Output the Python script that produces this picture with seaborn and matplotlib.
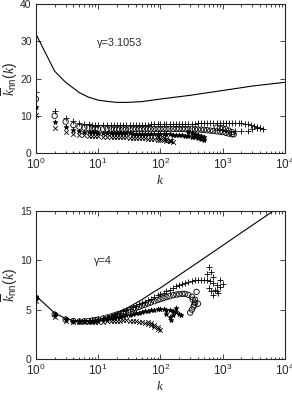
import matplotlib
matplotlib.use("Agg")
import matplotlib.pyplot as plt
import seaborn as sns
import pandas as pd

# ---- top panel, gamma = 3.1053 ----
K_TOP = [1, 2, 3, 4, 5, 6, 7, 8, 9, 10, 12, 14, 16, 18, 20, 22, 25, 28, 32, 36, 40, 45, 50,
         56, 63, 70, 80, 90, 100, 112, 125, 140, 160, 180, 200, 225, 250, 280, 320, 360, 400,
         450, 500, 560, 630, 700, 800, 900, 1000, 1120, 1250, 1400, 1600, 1800, 2000, 2250,
         2500, 2800, 3200, 3600, 4000, 4500]

TOP_LINE_K = [1, 2, 3, 5, 7, 10, 15, 20, 30, 50, 100, 300, 1000, 3000, 10000]
TOP_LINE_V = [32.0, 22.0, 19.0, 16.2, 15.0, 14.2, 13.8, 13.6, 13.6, 13.8, 14.5, 15.5, 16.8, 18.0, 19.0]

TOP_X = [10.3, 6.8, 5.7, 5.1, 4.8, 4.7, 4.6, 4.55, 4.5, 4.45, 4.4, 4.35, 4.3, 4.3, 4.25, 4.2,
         4.2, 4.15, 4.1, 4.05, 4.0, 4.0, 3.95, 3.9, 3.85, 3.8, 3.7, 3.6, 3.5, 3.4, 3.3, 3.1, 2.9]
TOP_X_TAIL_K = [90, 100, 112, 125, 140, 150]
TOP_X_TAIL_V = [4.2, 4.1, 4.0, 3.8, 3.5, 3.2]

TOP_STAR = [12.4, 8.4, 7.0, 6.2, 5.9, 5.7, 5.6, 5.5, 5.5, 5.45, 5.4, 5.4, 5.35, 5.35, 5.3, 5.3,
            5.3, 5.25, 5.25, 5.2, 5.2, 5.2, 5.15, 5.15, 5.1, 5.1, 5.1, 5.05, 5.0, 5.0, 5.0,
            4.95, 4.9, 4.85, 4.8, 4.7, 4.6, 4.5, 4.35, 4.2, 4.0, 3.8, 3.6]
TOP_STAR_TAIL_K = [280, 320, 360, 400, 450, 500]
TOP_STAR_TAIL_V = [5.6, 5.4, 5.2, 4.9, 4.6, 4.2]

TOP_O = [14.5, 10.0, 8.4, 7.5, 7.0, 6.8, 6.65, 6.55, 6.5, 6.45, 6.4, 6.4, 6.35, 6.35, 6.35,
         6.35, 6.35, 6.35, 6.35, 6.4, 6.4, 6.4, 6.4, 6.4, 6.4, 6.4, 6.45, 6.45, 6.45, 6.45,
         6.45, 6.45, 6.45, 6.45, 6.45, 6.45, 6.4, 6.4, 6.4, 6.35, 6.3, 6.25, 6.2, 6.1, 6.0,
         5.9, 5.8, 5.7, 5.6, 5.4, 5.2, 5.0]
TOP_O_TAIL_K = [800, 900, 1000, 1120, 1250, 1400, 1500]
TOP_O_TAIL_V = [6.8, 6.7, 6.6, 6.4, 6.0, 5.6, 5.0]

TOP_PLUS = [16.5, 11.4, 9.5, 8.6, 8.1, 7.8, 7.65, 7.55, 7.5, 7.45, 7.4, 7.4, 7.4, 7.4, 7.4,
            7.45, 7.45, 7.5, 7.5, 7.5, 7.55, 7.55, 7.6, 7.6, 7.6, 7.65, 7.65, 7.7, 7.7, 7.7,
            7.75, 7.75, 7.8, 7.8, 7.8, 7.85, 7.85, 7.9, 7.9, 7.9, 7.95, 7.95, 8.0, 8.0, 8.0,
            8.05, 8.05, 8.1, 8.1, 8.1, 8.15, 8.15, 8.15, 8.1, 8.0, 7.9, 7.7, 7.5, 7.2, 7.0,
            6.8, 6.5]
TOP_PLUS_TAIL_K = [1600, 2000, 2500, 3000, 3500, 4000]
TOP_PLUS_TAIL_V = [6.0, 5.8, 6.0, 6.3, 6.6, 6.8]

# ---- bottom panel, gamma = 4 ----
K_BOT = [1, 2, 3, 4, 5, 6, 7, 8, 9, 10, 12, 14, 16, 18, 20, 22, 25, 28, 32, 36, 40, 45, 50,
         56, 63, 70, 80, 90, 100, 112, 125, 140, 160, 180, 200, 225, 250, 280, 320, 360, 400,
         450, 500, 560, 630, 700, 800, 900, 1000]

BOT_LINE_K = [1, 2, 3, 4, 5, 7, 10, 15, 20, 30, 50, 70, 100, 200, 500, 1000, 2000, 5000, 10000]
BOT_LINE_V = [6.4, 4.65, 4.1, 3.9, 3.85, 3.85, 4.0, 4.3, 4.65, 5.2, 6.0, 6.6, 7.2, 8.5, 10.2,
              11.5, 12.8, 14.5, 15.8]

BOT_X = [5.9, 4.3, 3.8, 3.7, 3.7, 3.7, 3.7, 3.7, 3.7, 3.72, 3.75, 3.8, 3.82, 3.85, 3.87, 3.88,
         3.9, 3.9, 3.88, 3.85, 3.8, 3.75, 3.7, 3.6, 3.5, 3.4, 3.25, 3.05, 2.9]
BOT_X_TAIL_K = [63, 70, 80, 90]
BOT_X_TAIL_V = [3.7, 3.6, 3.4, 3.2]

BOT_STAR = [6.3, 4.55, 4.0, 3.85, 3.8, 3.8, 3.82, 3.85, 3.88, 3.92, 4.0, 4.07, 4.13, 4.2, 4.25,
            4.3, 4.37, 4.43, 4.5, 4.57, 4.63, 4.7, 4.77, 4.83, 4.9, 4.95, 5.0, 5.03, 5.05,
            5.05, 5.0, 4.95, 4.85, 4.75, 4.6]
BOT_STAR_TAIL_K = [125, 140, 150, 160, 180, 210]
BOT_STAR_TAIL_V = [4.6, 4.3, 3.9, 4.5, 5.2, 4.5]

BOT_O = [6.2, 4.5, 4.0, 3.85, 3.8, 3.82, 3.85, 3.9, 3.95, 4.0, 4.1, 4.2, 4.3, 4.4, 4.5, 4.58,
         4.7, 4.8, 4.93, 5.05, 5.15, 5.27, 5.4, 5.5, 5.62, 5.73, 5.85, 5.97, 6.07, 6.17, 6.27,
         6.35, 6.45, 6.52, 6.57, 6.6, 6.6, 6.5, 6.3, 6.0, 5.6]
BOT_O_TAIL_K = [300, 320, 340, 360, 380, 330, 350]
BOT_O_TAIL_V = [4.7, 5.0, 5.3, 5.7, 6.8, 6.0, 5.5]

BOT_PLUS = [6.2, 4.5, 4.0, 3.85, 3.82, 3.85, 3.88, 3.92, 3.97, 4.0, 4.12, 4.25, 4.37, 4.48,
            4.58, 4.68, 4.82, 4.95, 5.1, 5.25, 5.38, 5.52, 5.66, 5.8, 5.95, 6.1, 6.28, 6.43,
            6.58, 6.73, 6.88, 7.03, 7.2, 7.35, 7.48, 7.6, 7.7, 7.8, 7.88, 7.95, 8.0, 8.0, 8.0,
            7.95, 7.85, 7.7, 7.5, 7.3, 7.6]
BOT_PLUS_TAIL_K = [550, 600, 650, 700, 750, 800, 850, 900, 600, 650, 700]
BOT_PLUS_TAIL_V = [8.6, 9.3, 8.8, 6.5, 7.0, 6.9, 6.7, 8.0, 7.2, 6.9, 8.3]

sns.set_style("ticks")
plt.rcParams["font.family"] = ["Liberation Sans", "DejaVu Sans"]
plt.rcParams["mathtext.fontset"] = "custom"
plt.rcParams["mathtext.rm"] = "Liberation Sans"
plt.rcParams["mathtext.it"] = "Liberation Serif:italic"
plt.rcParams["font.size"] = 8

fig = plt.figure(figsize=(2.92, 3.93), dpi=100)
ax1 = fig.add_axes([0.123, 0.611, 0.853, 0.378])
ax2 = fig.add_axes([0.123, 0.0865, 0.853, 0.377])

MARKERS = [("x", 11), ("*", 12), ("o", 15), ("+", 19)]


def series_frame(grid, vals, tail_k, tail_v):
    return pd.DataFrame({"k": grid[:len(vals)] + tail_k, "v": vals + tail_v})


def draw_panel(ax, line_k, line_v, frames, ymax, yticks, label, label_xy):
    sns.lineplot(x=line_k, y=line_v, ax=ax, color="black", lw=0.8, sort=False)
    for df, (mk, sz) in zip(frames, MARKERS):
        if mk == "o":
            kw = dict(facecolor="none", edgecolor="black")
        else:
            kw = dict(color="black", edgecolor="black")
        sns.scatterplot(data=df, x="k", y="v", ax=ax, marker=mk, s=sz,
                        linewidth=0.6, zorder=3, **kw)
    ax.set_xscale("log")
    ax.set_xlim(1, 1e4)
    ax.set_ylim(0, ymax)
    ax.set_yticks(yticks)
    ax.set_xticks([1, 10, 100, 1000, 10000])
    ax.tick_params(which="both", direction="in", top=True, right=True, width=0.6)
    ax.tick_params(axis="x", labelsize=8.5, pad=3)
    ax.tick_params(axis="y", labelsize=7.5, pad=3)
    ax.tick_params(which="major", length=3.5)
    ax.tick_params(which="minor", length=1.8)
    for sp in ax.spines.values():
        sp.set_linewidth(0.8)
    ax.set_xlabel("$k$", fontsize=9.5, labelpad=1)
    ax.set_ylabel(r"$\overline{k}_{\rm nn}(k)$", fontsize=10, labelpad=0)
    ax.text(label_xy[0], label_xy[1], label, fontsize=7.8, ha="left", va="center")


top_frames = [series_frame(K_TOP, TOP_X, TOP_X_TAIL_K, TOP_X_TAIL_V),
              series_frame(K_TOP, TOP_STAR, TOP_STAR_TAIL_K, TOP_STAR_TAIL_V),
              series_frame(K_TOP, TOP_O, TOP_O_TAIL_K, TOP_O_TAIL_V),
              series_frame(K_TOP, TOP_PLUS, TOP_PLUS_TAIL_K, TOP_PLUS_TAIL_V)]
bot_frames = [series_frame(K_BOT, BOT_X, BOT_X_TAIL_K, BOT_X_TAIL_V),
              series_frame(K_BOT, BOT_STAR, BOT_STAR_TAIL_K, BOT_STAR_TAIL_V),
              series_frame(K_BOT, BOT_O, BOT_O_TAIL_K, BOT_O_TAIL_V),
              series_frame(K_BOT, BOT_PLUS, BOT_PLUS_TAIL_K, BOT_PLUS_TAIL_V)]

draw_panel(ax1, TOP_LINE_K, TOP_LINE_V, top_frames,
           40, [0, 10, 20, 30, 40], "γ=3.1053", (9.5, 29.5))
draw_panel(ax2, BOT_LINE_K, BOT_LINE_V, bot_frames,
           15, [0, 5, 10, 15], "γ=4", (8.5, 9.9))

fig.savefig("out.png", dpi=100)
